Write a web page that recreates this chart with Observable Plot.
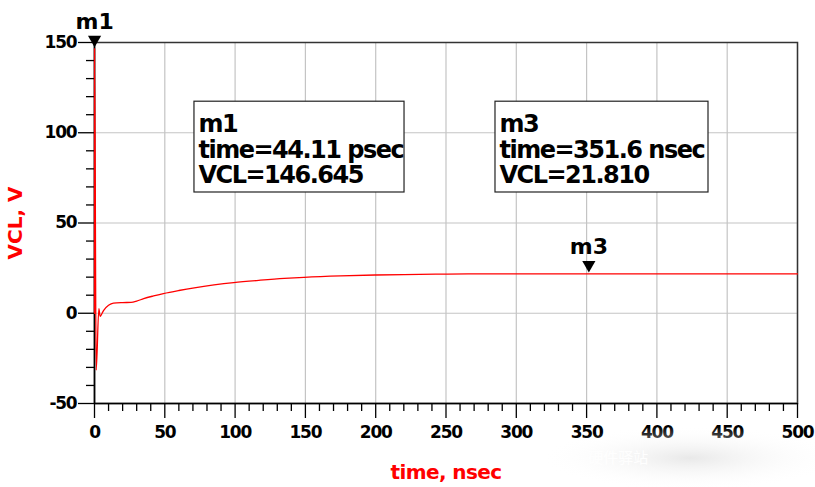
<!DOCTYPE html>
<html>
<head>
<meta charset="utf-8">
<script src="https://cdn.jsdelivr.net/npm/d3@7"></script>
<script src="https://cdn.jsdelivr.net/npm/@observablehq/plot@0.6"></script>
<style>
  html, body { margin: 0; padding: 0; background: #fff; }
  #chart { width: 815px; height: 487px; }
</style>
</head>
<body>
<div id="chart"></div>
<script>
// ---- data ----
const timeNs = [0, 0.044, 1.2, 3.1, 4.0, 6.4, 10, 13.5, 20, 26, 30, 35, 42, 49, 60, 71, 85, 99, 118, 135, 149, 175, 200, 220, 251, 289, 351.6, 420, 500];
const vclV   = [0, 146.645, -31.5, 2.5, -1.7, 1.5, 4.4, 5.6, 5.9, 6.0, 6.7, 8.1, 9.6, 10.9, 12.6, 14.1, 15.7, 17.0, 18.3, 19.3, 19.9, 20.7, 21.2, 21.45, 21.7, 21.8, 21.81, 21.8, 21.8];

const markerNames  = ["m1", "m3"];
const markerTimes  = [0.04411, 351.6];
const markerValues = [146.645, 21.810];
const markerTexts  = ["m1\ntime=44.11 psec\nVCL=146.645", "m3\ntime=351.6 nsec\nVCL=21.810"];

const xMajorTicks = [0, 50, 100, 150, 200, 250, 300, 350, 400, 450, 500];
const yMajorTicks = [-50, 0, 50, 100, 150];
const xMinorTicks = d3.range(0, 501, 10).filter(v => v % 50 !== 0);
const yMinorTicks = d3.range(-50, 151, 10).filter(v => v % 50 !== 0);

// annotation box layout (in data units)
const boxX1 = [71.1, 285.2];
const boxX2 = [220.5, 436.7];
const boxTop = 117.2;
const boxBottom = 66.9;

const series = timeNs.map((t, i) => ({t, v: vclV[i]}));
const markers = markerNames.map((n, i) => ({name: n, t: markerTimes[i], v: markerValues[i], text: markerTexts[i], x1: boxX1[i], x2: boxX2[i]}));

const red = "#ff0000";
const plainFormat = d => String(d);

const plot = Plot.plot({
  width: 815,
  height: 487,
  marginLeft: 94,
  marginRight: 18,
  marginTop: 42,
  marginBottom: 84,
  style: {fontFamily: "'DejaVu Sans', sans-serif", fontWeight: "bold", background: "#fff", color: "#000"},
  x: {domain: [0, 500]},
  y: {domain: [-50, 150]},
  marks: [
    Plot.gridX(xMajorTicks, {stroke: "#c4c4c4", strokeOpacity: 1, strokeWidth: 1.2}),
    Plot.gridY(yMajorTicks, {stroke: "#c4c4c4", strokeOpacity: 1, strokeWidth: 1.2}),
    Plot.frame({stroke: "#333", strokeWidth: 1.5}),
    Plot.axisX(xMinorTicks, {tickSize: 8, text: null, strokeWidth: 1.3, label: null}),
    Plot.axisX(xMajorTicks, {tickSize: 15, tickPadding: 7, fontSize: 17, fontWeight: "bold", strokeWidth: 1.3, label: null, tickFormat: plainFormat}),
    Plot.axisY(yMinorTicks, {tickSize: 8, text: null, strokeWidth: 1.3, label: null}),
    Plot.axisY(yMajorTicks, {tickSize: 16, tickPadding: 2, fontSize: 17, fontWeight: "bold", strokeWidth: 1.3, label: null, tickFormat: plainFormat}),
    Plot.ruleX([0], {stroke: "#000", strokeWidth: 1.5}),
    Plot.ruleY([-50], {stroke: "#000", strokeWidth: 1.5}),
    Plot.line(series, {x: "t", y: "v", stroke: red, strokeWidth: 1.3, curve: "monotone-x"}),
    Plot.rect(markers, {x1: "x1", x2: "x2", y1: boxBottom, y2: boxTop, fill: "#fff", stroke: "#222", strokeWidth: 1.2}),
    Plot.text(markers, {x: "x1", y: boxTop, text: "text", textAnchor: "start", lineAnchor: "top", dx: 4, dy: 12, fontSize: 24, lineHeight: 1.07, fill: "#000", fontWeight: "bold"}),
    Plot.dot(markers, {x: "t", y: "v", symbol: "triangle", rotate: 180, r: 4.9, fill: "#000", stroke: "none", dy: -9}),
    Plot.text(markers, {x: "t", y: "v", text: "name", textAnchor: "middle", lineAnchor: "bottom", dy: -20, fontSize: 22, fill: "#000", fontWeight: "bold"}),
    Plot.text(["VCL, V"], {frameAnchor: "left", text: d => d, rotate: -90, dx: -79, fontSize: 20, fill: red, fontWeight: "bold", textAnchor: "middle", lineAnchor: "middle"}),
    Plot.text(["time, nsec"], {frameAnchor: "bottom", text: d => d, dy: 69, fontSize: 20, fill: red, fontWeight: "bold", textAnchor: "middle", lineAnchor: "middle"})
  ]
});

document.getElementById("chart").append(plot);

// tighten letter spacing like the original rendering
d3.select(plot).selectAll("text").each(function() {
  const s = this.textContent;
  const el = d3.select(this);
  if (s.includes("time=")) el.style("letter-spacing", "-1.5px");
  else if (/^-?\d+$/.test(s)) el.style("letter-spacing", "-1.2px");
  else if (s === "time, nsec") el.style("letter-spacing", "-0.6px");
});
d3.select(plot).selectAll("tspan").each(function() {
  const s = this.textContent;
  if (s.includes("=") || s === "m1" || s === "m3") d3.select(this).style("letter-spacing", "-1.5px");
});

// faint watermark
const svg = d3.select(plot);
const defs = svg.append("defs");
const grad = defs.append("radialGradient").attr("id", "wm");
grad.append("stop").attr("offset", "0%").attr("stop-color", "#e6e6e6").attr("stop-opacity", 0.9);
grad.append("stop").attr("offset", "100%").attr("stop-color", "#ffffff").attr("stop-opacity", 0);
svg.append("ellipse").attr("cx", 690).attr("cy", 458).attr("rx", 150).attr("ry", 32).attr("fill", "url(#wm)");
svg.append("text").attr("x", 585).attr("y", 463).attr("font-size", 15).attr("font-weight", "normal")
  .attr("font-family", "'Noto Sans CJK SC', sans-serif").attr("fill", "#ffffff").attr("fill-opacity", 0.95)
  .text("公众号 · 硬件驿站");
</script>
</body>
</html>
